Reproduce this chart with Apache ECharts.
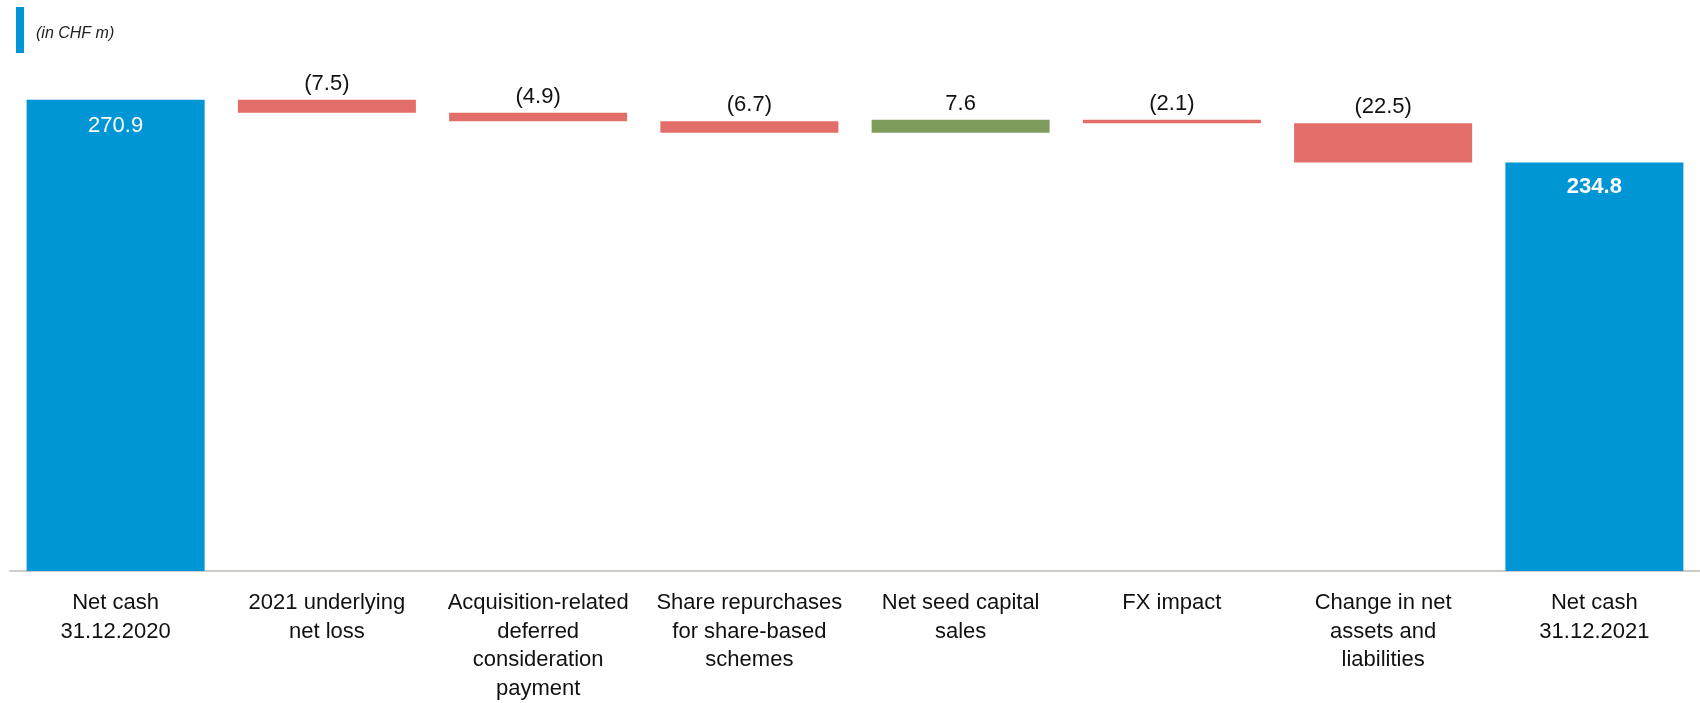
<!DOCTYPE html>
<html>
<head>
<meta charset="utf-8">
<script src="https://cdn.jsdelivr.net/npm/echarts@6/dist/echarts.min.js"></script>
<style>
  html, body { margin: 0; padding: 0; background: #fff; }
  #main { width: 1700px; height: 703px; }
</style>
</head>
<body>
<div id="main"></div>
<script>
// data (CHF m)
var categories = [
    'Net cash\n31.12.2020',
    '2021 underlying\nnet loss',
    'Acquisition-related\ndeferred\nconsideration\npayment',
    'Share repurchases\nfor share-based\nschemes',
    'Net seed capital\nsales',
    'FX impact',
    'Change in net\nassets and\nliabilities',
    'Net cash\n31.12.2021'
];
var openingCash = 270.9;
var changes = [-7.5, -4.9, -6.7, 7.6, -2.1, -22.5];
var closingCash = 234.8;

var BLUE = '#0096d6', RED = '#e36d69', GREEN = '#7e9c5b';

// build the floating bars: invisible base + visible step
var baseData = [0];
var stepData = [{ value: openingCash, itemStyle: { color: BLUE } }];
var running = openingCash;
changes.forEach(function (d) {
    var next = Math.round((running + d) * 10) / 10;
    baseData.push(Math.min(running, next));
    stepData.push({
        value: Math.abs(d),
        delta: d,
        itemStyle: { color: d < 0 ? RED : GREEN }
    });
    running = next;
});
baseData.push(0);
stepData.push({ value: closingCash, itemStyle: { color: BLUE } });

var last = categories.length - 1;
stepData[0].label = {
    position: 'insideTop', distance: 15, color: '#fff'
};
stepData[last].label = {
    position: 'insideTop', distance: 13, color: '#fff', fontWeight: 'bold'
};

var chart = echarts.init(document.getElementById('main'));
chart.setOption({
    animation: false,
    graphic: [
        { type: 'rect', left: 16, top: 7, shape: { width: 8, height: 46 }, style: { fill: BLUE } },
        { type: 'text', left: 36, top: 26, style: {
            text: '(in CHF m)', font: 'italic 16px "Liberation Sans", Arial, sans-serif', fill: '#222'
        } }
    ],
    grid: { left: 10, top: 49, width: 1704, height: 525 },
    xAxis: {
        type: 'category',
        data: categories,
        axisLine: { lineStyle: { color: '#d0cbc6', width: 2 } },
        axisTick: { show: false },
        axisLabel: {
            interval: 0,
            margin: 18,
            color: '#111',
            fontSize: 22,
            lineHeight: 28.5,
            fontFamily: '"Liberation Sans", Arial, sans-serif'
        }
    },
    yAxis: { type: 'value', min: 0, max: 300, show: false },
    series: [
        {
            type: 'bar', stack: 'wf', barWidth: 178,
            itemStyle: { color: 'transparent' },
            data: baseData, silent: true
        },
        {
            type: 'bar', stack: 'wf', barWidth: 178,
            data: stepData,
            label: {
                show: true,
                position: 'top',
                distance: 5,
                color: '#111',
                fontSize: 22,
                fontFamily: '"Liberation Sans", Arial, sans-serif',
                formatter: function (p) {
                    var d = p.data.delta;
                    if (d === undefined) return p.value.toFixed(1);
                    return d < 0 ? '(' + Math.abs(d).toFixed(1) + ')' : d.toFixed(1);
                }
            }
        }
    ]
});
</script>
</body>
</html>
